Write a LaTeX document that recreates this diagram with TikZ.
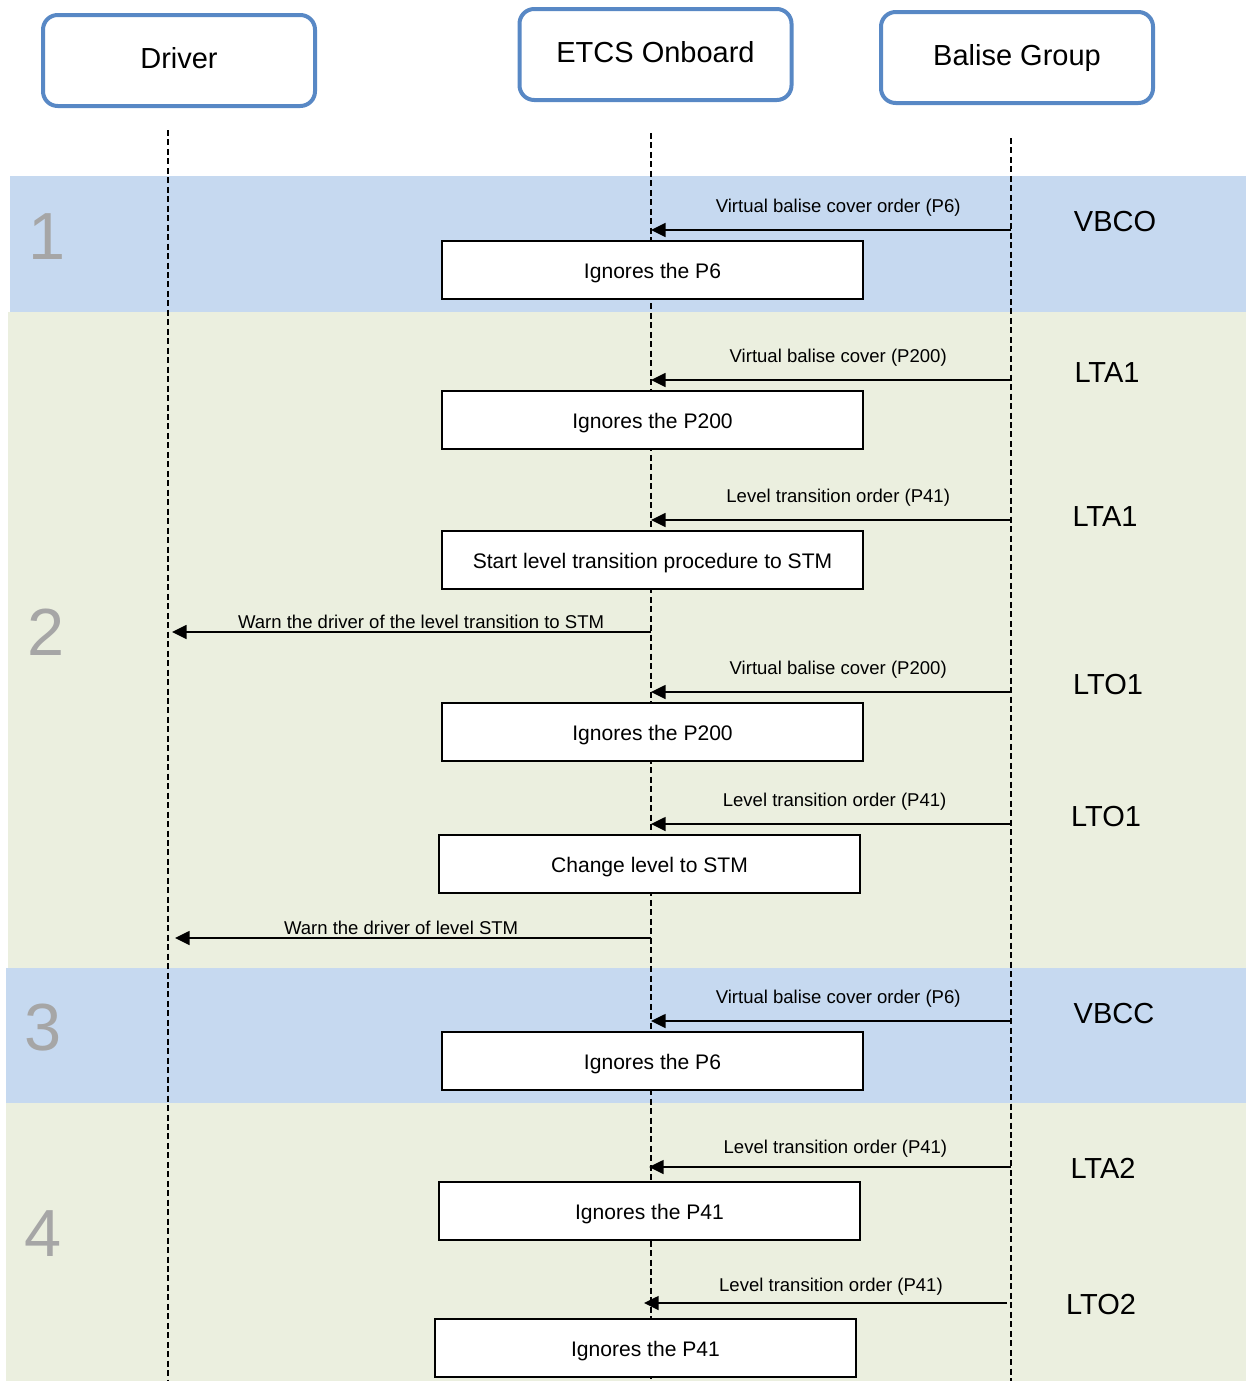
\documentclass[tikz,border=0pt]{standalone}
\usepackage{fontspec}
\setmainfont{Liberation Sans}
\usetikzlibrary{arrows.meta}
\definecolor{bandblue}{RGB}{198,217,240}
\definecolor{bandgreen}{RGB}{235,239,223}
\definecolor{hdrblue}{RGB}{88,136,197}
\definecolor{numgray}{RGB}{166,166,166}
\begin{document}
\begin{tikzpicture}[x=0.75pt,y=-0.75pt,
  hdr/.style={draw=hdrblue, line width=3pt, rounded corners=11pt, fill=white,
    minimum width=204pt, minimum height=68.25pt, inner sep=0pt,
    text height=16pt, text depth=4.2pt,
    font=\fontsize{21.75}{26}\selectfont},
  actbox/.style={draw=black, line width=0.8pt, fill=white, inner sep=0pt,
    minimum width=315.75pt, minimum height=43.5pt,
    text height=13pt, text depth=0pt,
    font=\fontsize{15.8}{19}\selectfont},
  lifeline/.style={line width=1.4pt, dash pattern=on 4.5pt off 2.6pt},
  msg/.style={line width=1.2pt, -{Triangle[length=11pt,width=10.5pt]}},
  lbl/.style={font=\fontsize{13.9}{16}\selectfont, anchor=base, inner sep=0pt},
  phase/.style={font=\fontsize{21.75}{26}\selectfont, inner sep=0pt},
  num/.style={font=\fontsize{50}{60}\selectfont, text=numgray, inner sep=0pt}
]
\useasboundingbox (0,0) rectangle (1246,1381);
% bands
\fill[bandblue] (10,176) rectangle (1246,312);
\fill[bandgreen] (8,312) rectangle (1246,968);
\fill[bandblue] (6,968) rectangle (1246,1103);
\fill[bandgreen] (6,1103) rectangle (1246,1381);
% phase numbers
\node[num] (n1) at (47.5,237) {1};
\node[num] (n2) at (46,632) {2};
\node[num] (n3) at (43,1028) {3};
\node[num] (n4) at (43,1234) {4};
% headers
\node[hdr] (drv) at (179,60.5) {Driver};
\node[hdr] (etcs) at (655.5,54.5) {ETCS Onboard};
\node[hdr] (bal) at (1017,57.5) {Balise Group};
% lifelines
\coordinate (dtop) at (168,130);
\coordinate (dbot) at (168,1381);
\coordinate (etop) at (651,133);
\coordinate (ebot) at (651,1381);
\coordinate (btop) at (1011,138);
\coordinate (bbot) at (1011,1381);
\draw[lifeline] (dtop) -- (dbot);
\draw[lifeline] (etop) -- (ebot);
\draw[lifeline] (btop) -- (bbot);
% phase labels
\node[phase] (p1) at (1115,222) {VBCO};
\node[phase] (p2) at (1107,373) {LTA1};
\node[phase] (p3) at (1105,517) {LTA1};
\node[phase] (p4) at (1108,685) {LTO1};
\node[phase] (p5) at (1106,817) {LTO1};
\node[phase] (p6) at (1114,1014) {VBCC};
\node[phase] (p7) at (1103,1168) {LTA2};
\node[phase] (p8) at (1101,1304) {LTO2};
% activity boxes
\node[actbox] (a1) at (652.5,270) {Ignores the P6};
\node[actbox] (a2) at (652.5,420) {Ignores the P200};
\node[actbox] (a3) at (652.5,560) {Start level transition procedure to STM};
\node[actbox] (a5) at (652.5,732) {Ignores the P200};
\node[actbox] (a6) at (649.5,864) {Change level to STM};
\node[actbox] (a8) at (652.5,1061) {Ignores the P6};
\node[actbox] (a9) at (649.5,1211) {Ignores the P41};
\node[actbox] (a10) at (645.5,1348) {Ignores the P41};
% message end points
\coordinate (b1) at (1011,230);  \coordinate (e1) at (651,230);
\coordinate (b2) at (1011,380);  \coordinate (e2) at (651,380);
\coordinate (b3) at (1011,520);  \coordinate (e3) at (651,520);
\coordinate (e4) at (651,632);   \coordinate (d4) at (172,632);
\coordinate (b5) at (1011,692);  \coordinate (e5) at (651,692);
\coordinate (b6) at (1011,824);  \coordinate (e6) at (651,824);
\coordinate (e7) at (651,938);   \coordinate (d7) at (175,938);
\coordinate (b8) at (1011,1021); \coordinate (e8) at (651,1021);
\coordinate (b9) at (1011,1167); \coordinate (e9) at (649,1167);
\coordinate (b10) at (1007,1303); \coordinate (e10) at (644,1303);
% messages
\draw[msg] (b1) -- node[lbl, pos=0.48, yshift=13pt] {Virtual balise cover order (P6)} (e1);
\draw[msg] (b2) -- node[lbl, pos=0.48, yshift=13pt] {Virtual balise cover (P200)} (e2);
\draw[msg] (b3) -- node[lbl, pos=0.48, yshift=13pt] {Level transition order (P41)} (e3);
\draw[msg] (e4) -- node[lbl, pos=0.48, yshift=3pt] {Warn the driver of the level transition to STM} (d4);
\draw[msg] (b5) -- node[lbl, pos=0.48, yshift=13pt] {Virtual balise cover (P200)} (e5);
\draw[msg] (b6) -- node[lbl, pos=0.49, yshift=13pt] {Level transition order (P41)} (e6);
\draw[msg] (e7) -- node[lbl, pos=0.525, yshift=3pt] {Warn the driver of level STM} (d7);
\draw[msg] (b8) -- node[lbl, pos=0.48, yshift=13pt] {Virtual balise cover order (P6)} (e8);
\draw[msg] (b9) -- node[lbl, pos=0.485, yshift=10pt] {Level transition order (P41)} (e9);
\draw[msg] (b10) -- node[lbl, pos=0.485, yshift=9pt] {Level transition order (P41)} (e10);
\end{tikzpicture}
\end{document}
